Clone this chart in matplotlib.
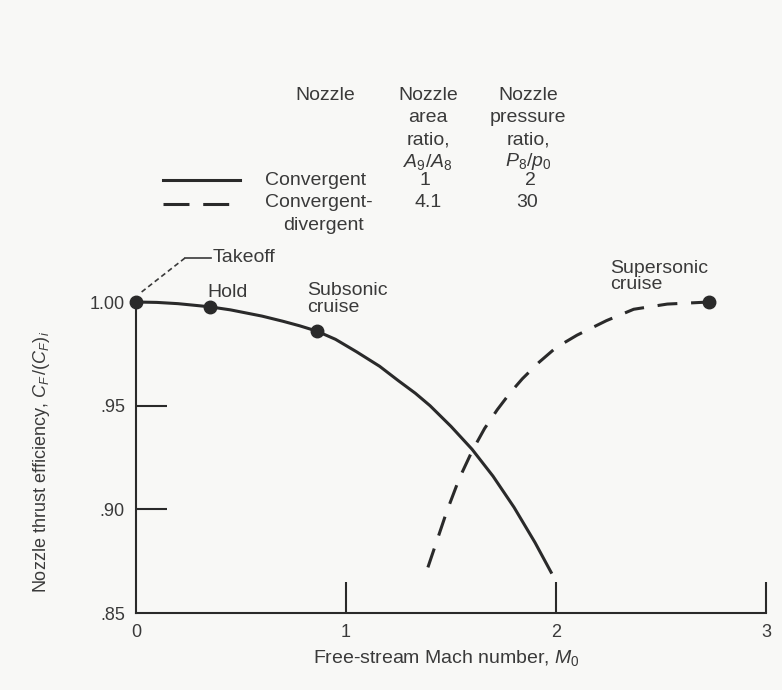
import numpy as np
import matplotlib
matplotlib.use("Agg")
import matplotlib.pyplot as plt

plt.rcParams['font.family'] = ['Liberation Sans', 'DejaVu Sans']
plt.rcParams['mathtext.fontset'] = 'custom'
plt.rcParams['mathtext.rm'] = 'Liberation Sans'
plt.rcParams['mathtext.it'] = 'Liberation Sans:italic'

# convergent nozzle (solid)
conv_mach = [0.0, 0.1, 0.2, 0.35, 0.45, 0.6, 0.7, 0.78, 0.86, 0.95, 1.05, 1.16, 1.25,
             1.33, 1.4, 1.5, 1.6, 1.7, 1.8, 1.9, 1.98]
conv_eff = [1.000, 0.9998, 0.9992, 0.9977, 0.9962, 0.9932, 0.9907, 0.9885, 0.986, 0.982,
            0.976, 0.969, 0.962, 0.956, 0.950, 0.940, 0.929, 0.916, 0.901, 0.884, 0.869]

# convergent-divergent nozzle (dashed)
cd_mach = [1.39, 1.44, 1.48, 1.54, 1.6, 1.66, 1.72, 1.78, 1.84, 1.92, 2.0, 2.1,
           2.24, 2.37, 2.53, 2.73]
cd_eff = [0.872, 0.887, 0.899, 0.915, 0.928, 0.939, 0.948, 0.956, 0.963, 0.971,
          0.978, 0.984, 0.991, 0.9965, 0.999, 1.000]

# operating points
pt_mach = [0.0, 0.35, 0.86, 2.73]
pt_eff = [1.000, 0.9977, 0.986, 1.000]

xticks = [0, 1, 2, 3]
yticks = [0.85, 0.90, 0.95, 1.00]
ylabels = ['.85', '.90', '.95', '1.00']

ink = '#2a2a2a'
txt = '#3a3a3a'
bg = '#f8f8f6'
fs = 14

W, H = 782, 690
fig = plt.figure(figsize=(W / 100, H / 100), dpi=100, facecolor=bg)
ax = fig.add_axes([136 / W, 1 - 613 / H, 630 / W, 311 / H], facecolor=bg)

ax.plot(conv_mach, conv_eff, color=ink, lw=2.2, solid_capstyle='butt',
        solid_joinstyle='round', clip_on=False)
ax.plot(cd_mach, cd_eff, color=ink, lw=2.2, ls=(0, (6.5, 4.5)), clip_on=False)
ax.plot(pt_mach, pt_eff, 'o', color=ink, ms=9, clip_on=False, zorder=5)

ax.set_xlim(0, 3)
ax.set_ylim(0.85, 1.00)
for s in ['top', 'right']:
    ax.spines[s].set_visible(False)
for s in ['left', 'bottom']:
    ax.spines[s].set_color(ink)
    ax.spines[s].set_linewidth(1.5)

ax.set_xticks(xticks)
ax.set_yticks(yticks)
ax.set_yticklabels(ylabels)
ax.tick_params(direction='in', length=22, width=1.5, color=ink,
               labelsize=13, labelcolor=txt, pad=8)
ax.xaxis.get_major_ticks()[0].tick1line.set_visible(False)
ax.yaxis.get_major_ticks()[0].tick1line.set_visible(False)
ax.yaxis.get_major_ticks()[3].tick1line.set_visible(False)

fig.text(446 / W, 1 - 658 / H, 'Free-stream Mach number, $M_0$', ha='center',
         va='center', fontsize=fs, color=txt)
fig.text(42 / W, 1 - 462 / H, 'Nozzle thrust efficiency, $C_F\\,/(C_F)_i$', ha='center',
         va='center', rotation=90, fontsize=13, color=txt)

# point labels
ax.text(0.367, 1.0217, 'Takeoff', fontsize=fs, color=txt, va='center', clip_on=False)
ax.plot([0.233, 0.355], [1.0212, 1.0212], color=txt, lw=1.2, clip_on=False)
ax.plot([0.233, 0.02], [1.0212, 1.0043], color=txt, lw=1.2, ls=(0, (3, 2)), clip_on=False)
ax.text(0.338, 1.0048, 'Hold', fontsize=fs, color=txt, va='center', clip_on=False)
ax.text(0.814, 1.0014, 'Subsonic\ncruise', fontsize=fs, color=txt, va='center',
        linespacing=0.95, clip_on=False)
ax.text(2.257, 1.0123, 'Supersonic\ncruise', fontsize=fs, color=txt, va='center',
        linespacing=0.95, clip_on=False)

# legend table
def ftext(px, py, s, **kw):
    fig.text(px / W, 1 - py / H, s, fontsize=fs, color=txt, va='center', **kw)

ftext(325, 96, 'Nozzle', ha='center')
for i, s in enumerate(['Nozzle', 'area', 'ratio,', '$A_9/A_8$']):
    ftext(428, 96 + 22 * i, s, ha='center')
for i, s in enumerate(['Nozzle', 'pressure', 'ratio,', '$P_8/p_0$']):
    ftext(528, 96 + 22 * i, s, ha='center')

ftext(265, 180, 'Convergent', ha='left')
ftext(425, 180, '1', ha='center')
ftext(530, 180, '2', ha='center')
ftext(265, 203, 'Convergent-', ha='left')
ftext(428, 203, '4.1', ha='center')
ftext(527, 203, '30', ha='center')
ftext(283, 226, 'divergent', ha='left')

fig.add_artist(plt.Line2D([163 / W, 240 / W], [1 - 180 / H, 1 - 180 / H],
                          color=ink, lw=2.2))
fig.add_artist(plt.Line2D([163 / W, 240 / W], [1 - 204 / H, 1 - 204 / H],
                          color=ink, lw=2.2, ls=(0, (8.5, 4.5))))

fig.savefig('out.png', dpi=100, facecolor=bg)
